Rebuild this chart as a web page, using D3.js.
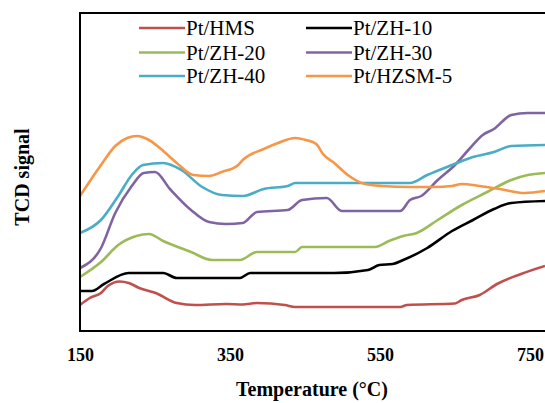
<!DOCTYPE html>
<html>
<head>
<meta charset="utf-8">
<script src="https://cdn.jsdelivr.net/npm/d3@7/dist/d3.min.js"></script>
<style>
  html, body { margin: 0; padding: 0; background: #fff; }
  svg { display: block; }
</style>
</head>
<body>
<svg id="chart" width="545" height="403"></svg>
<script>
// TPR profiles: temperature (°C) vs. TCD signal (arbitrary units)
const xTicks = [150, 350, 550, 750];

const hms = [[150,26],[163,33],[178,38],[187,45],[203,49.5],[215,48],[229,43],[251,38],[279,28],[303,26],[345,27],[367,26.5],[386,28],[423,26],[437,24],[577,24],[586,26],[650,27.5],[659,31],[683,36],[706,47],[738,57],[770,65]];
const zh10 = [[150,40],[166,40],[182,47],[215,58],[261,58],[279,53],[363,53],[377,58],[489,58],[534,61],[549,66],[567,67],[581,71],[613,83],[646,100],[674,111],[702,122],[725,128],[770,130]];
const zh20 = [[150,54],[178,69],[201,86],[225,95],[242,97],[261,90],[298,79],[326,71],[363,71],[386,79],[437,79],[446,84],[543,84],[562,90],[581,95],[599,98],[627,111],[659,126],[693,139],[725,151],[747,156],[770,158]];
const zh30 = [[150,63],[178,83],[197,118],[219,145],[235,158],[250,159],[270,142],[298,121],[322,109],[345,107],[367,108],[386,119],[427,121],[446,131],[479,133],[499,120],[577,120],[590,131],[605,135],[627,151],[650,166],[669,182],[687,196],[702,202],[725,216],[747,218],[770,218]];
const zh40 = [[150,98],[178,111],[201,135],[219,156],[234,166],[261,168],[285,161],[313,144],[339,136],[367,135],[395,142],[427,145],[437,148],[590,148],[613,156],[646,166],[674,174],[702,179],[725,185],[770,186]];
const hzsm5 = [[150,135],[178,166],[197,185],[213,193],[226,195],[242,191],[261,180],[279,168],[301,156],[322,155],[339,159],[361,166],[367,171],[395,182],[414,188],[437,193],[451,191],[465,187],[474,177],[489,168],[507,156],[530,147],[553,145],[590,144],[622,144],[646,145],[659,147],[683,145],[710,142],[743,138],[770,140]];

const seriesNames = ["Pt/HMS", "Pt/ZH-10", "Pt/ZH-20", "Pt/ZH-30", "Pt/ZH-40", "Pt/HZSM-5"];
const seriesData = [hms, zh10, zh20, zh30, zh40, hzsm5];
const seriesColors = ["#C0504D", "#000000", "#9BBB59", "#8064A2", "#4BACC6", "#F79646"];

const svg = d3.select("#chart");
const m = { left: 80, right: 545, top: 13, bottom: 331 };

const x = d3.scaleLinear().domain([150, 770]).range([m.left, m.right]);
const y = d3.scaleLinear().domain([0, 318]).range([m.bottom, m.top]);

// curves
const line = d3.line().x(d => x(d[0])).y(d => y(d[1])).curve(d3.curveMonotoneX);
const plot = svg.append("g");
seriesData.forEach((data, i) => {
  plot.append("path")
    .datum(data)
    .attr("fill", "none")
    .attr("stroke", seriesColors[i])
    .attr("stroke-width", 2.6)
    .attr("stroke-linejoin", "round")
    .attr("d", line);
});

// plot frame
svg.append("rect")
  .attr("x", m.left).attr("y", m.top)
  .attr("width", m.right - m.left + 10).attr("height", m.bottom - m.top)
  .attr("fill", "none").attr("stroke", "#000").attr("stroke-width", 2);

// x axis tick labels (no tick marks)
const xAxis = d3.axisBottom(x).tickValues(xTicks).tickSize(0).tickPadding(0);
const gx = svg.append("g").attr("transform", `translate(0,${m.bottom})`).call(xAxis);
gx.select(".domain").remove();
gx.selectAll("text")
  .attr("dy", null)
  .attr("y", 30)
  .attr("fill", "#000")
  .style("font-family", "'Liberation Serif', 'Times New Roman', serif")
  .style("font-size", "18px")
  .style("font-weight", "bold");

// axis titles
svg.append("text")
  .attr("x", 312).attr("y", 396)
  .attr("text-anchor", "middle")
  .style("font-family", "'Liberation Serif', 'Times New Roman', serif")
  .style("font-size", "20px").style("font-weight", "bold")
  .text("Temperature (°C)");

svg.append("text")
  .attr("transform", "translate(29,177) rotate(-90)")
  .attr("text-anchor", "middle")
  .style("font-family", "'Liberation Serif', 'Times New Roman', serif")
  .style("font-size", "20px").style("font-weight", "bold")
  .text("TCD signal");

// legend: two columns, three rows
const legend = svg.append("g");
const colX = [139, 306];
const rowY = [28, 52.5, 76];
seriesNames.forEach((name, i) => {
  const cx = colX[i % 2], cy = rowY[Math.floor(i / 2)];
  legend.append("line")
    .attr("x1", cx).attr("x2", cx + 46)
    .attr("y1", cy).attr("y2", cy)
    .attr("stroke", seriesColors[i]).attr("stroke-width", 2.6);
  legend.append("text")
    .attr("x", cx + 47).attr("y", cy + 7)
    .style("font-family", "'Liberation Serif', 'Times New Roman', serif")
    .style("font-size", "21px")
    .attr("fill", "#000")
    .text(name);
});
</script>
</body>
</html>
